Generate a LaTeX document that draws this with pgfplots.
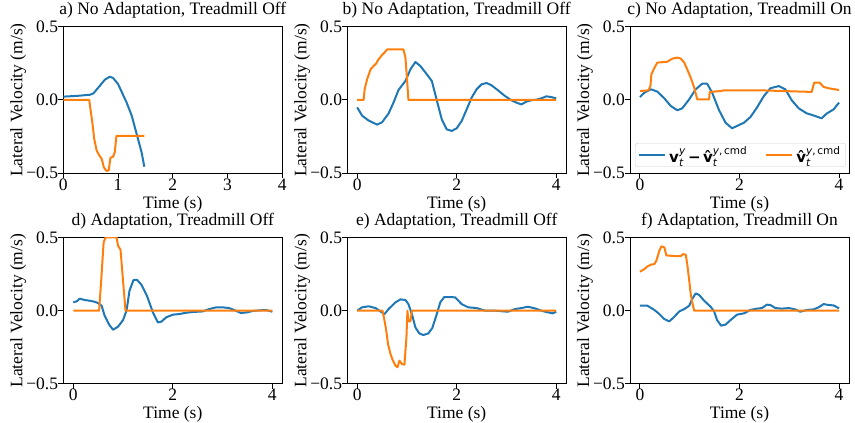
\documentclass[border=0pt]{standalone}
\usepackage{amsmath}
\usepackage{pgfplots}
\pgfplotsset{compat=1.18}
\usepackage{fontspec}
\setmainfont{Liberation Serif}
\newfontfamily\dejavu{DejaVu Sans}

\definecolor{mblue}{RGB}{31,119,180}
\definecolor{morange}{RGB}{255,127,14}

\newcommand{\fs}{\fontsize{17.5bp}{21bp}\selectfont}
\newcommand{\tl}[1]{\textrm{#1}}
\newcommand{\bv}{\text{\dejavu\bfseries v}}
\newcommand{\bvh}{\text{\dejavu\bfseries v̂}}
\newcommand{\st}{\text{\dejavu\itshape t}}
\newcommand{\sy}{\text{\dejavu\itshape y}}
\newcommand{\cmd}{\text{\dejavu ,\,cmd}}

\pgfplotsset{
  panel/.style={
    scale only axis, width=219bp, height=146.6bp,
    ymin=-0.5, ymax=0.5, ytick={-0.5,0,0.5},
    yticklabels={\tl{−0.5},\tl{0.0},\tl{0.5}},
    xmin=-0.2, xmax=4.2, xtick={0,2,4}, xticklabels={\tl{0},\tl{2},\tl{4}},
    tick align=outside, tick pos=left, major tick length=5bp,
    axis line style={line width=1bp},
    every tick/.style={black, line width=1bp},
    tick label style={font=\fs},
    xticklabel style={anchor=north, inner sep=0pt},
    yticklabel style={anchor=east, inner sep=0pt},
    xlabel={Time (s)}, ylabel={Lateral Velocity (m/s)},
    xlabel style={at={(axis description cs:0.5,-0.2387)}, anchor=base, inner sep=0pt, font=\fs},
    ylabel style={at={(axis description cs:-0.187,0.5)}, anchor=base, inner sep=0pt, font=\fs},
    title style={at={(axis description cs:0.5,1.041)}, anchor=base, inner sep=0pt, font=\fs},
  },
  bl/.style={mblue, line width=2bp, line join=round},
  or/.style={morange, line width=2bp, line join=round},
}

\begin{document}
\begin{tikzpicture}
\useasboundingbox (0,0) rectangle (855bp,423bp);

% a
\begin{axis}[panel, at={(63.3bp,249.7bp)}, anchor=south west,
  xmin=0, xmax=4, xtick={0,1,2,3,4},
  xticklabels={\tl{0},\tl{1},\tl{2},\tl{3},\tl{4}},
  title={a) No Adaptation, Treadmill Off}]
\addplot[bl] coordinates {(0,0.023)(0.25,0.028)(0.49,0.036)(0.55,0.045)(0.67,0.098)(0.76,0.139)(0.85,0.159)(0.91,0.15)(1.0,0.109)(1.155,-0.016)(1.25,-0.107)(1.34,-0.232)(1.43,-0.357)(1.48,-0.455)};
\addplot[or] coordinates {(0,0)(0.474,0)(0.5,-0.073)(0.53,-0.152)(0.565,-0.266)(0.61,-0.345)(0.66,-0.38)(0.7,-0.40)(0.74,-0.459)(0.79,-0.484)(0.83,-0.48)(0.86,-0.395)(0.91,-0.386)(0.94,-0.357)(0.97,-0.245)(1.48,-0.245)};
\end{axis}

% b
\begin{axis}[panel, at={(347.2bp,249.7bp)}, anchor=south west,
  title={b) No Adaptation, Treadmill Off}]
\addplot[bl] coordinates {(0,-0.05)(0.1,-0.107)(0.23,-0.14)(0.4,-0.168)(0.5,-0.152)(0.63,-0.093)(0.73,-0.018)(0.83,0.068)(0.97,0.13)(1.07,0.209)(1.17,0.259)(1.27,0.232)(1.4,0.175)(1.5,0.13)(1.6,-0.002)(1.7,-0.132)(1.8,-0.2)(1.9,-0.211)(2.0,-0.193)(2.1,-0.143)(2.2,-0.064)(2.3,0.016)(2.4,0.073)(2.5,0.107)(2.6,0.116)(2.7,0.1)(2.83,0.066)(2.97,0.027)(3.1,-0.002)(3.2,-0.018)(3.3,-0.03)(3.4,-0.011)(3.5,-0.002)(3.6,0.002)(3.7,0.011)(3.8,0.025)(3.9,0.02)(4.0,0.011)};
\addplot[or] coordinates {(0,0)(0.13,0)(0.15,0.073)(0.2,0.141)(0.27,0.209)(0.33,0.232)(0.38,0.248)(0.43,0.277)(0.5,0.307)(0.55,0.323)(0.6,0.345)(0.93,0.345)(0.97,0.289)(1.0,0.152)(1.03,0)(4.0,0)};
\end{axis}

% c
\begin{axis}[panel, at={(630bp,249.7bp)}, anchor=south west,
  title={c) No Adaptation, Treadmill On},
  legend columns=2,
  legend style={at={(axis description cs:0.504,0.045)}, anchor=south,
    draw=black!20, rounded corners=2bp, fill=white, font=\fontsize{15bp}{17bp}\selectfont,
    inner xsep=3bp, inner ysep=1bp,
    /tikz/every odd column/.append style={column sep=1bp},
    /tikz/every even column/.append style={column sep=16bp}},
  legend image code/.code={\draw[#1] (0bp,0bp) -- (26bp,0bp);}]
\addplot[bl] coordinates {(0,0.02)(0.09,0.05)(0.22,0.073)(0.35,0.057)(0.49,0.011)(0.62,-0.041)(0.75,-0.07)(0.85,-0.057)(0.99,0.005)(1.12,0.073)(1.25,0.111)(1.35,0.111)(1.45,0.05)(1.59,-0.07)(1.72,-0.155)(1.85,-0.193)(1.95,-0.177)(2.09,-0.155)(2.22,-0.116)(2.35,-0.052)(2.49,0.027)(2.62,0.08)(2.79,0.095)(2.92,0.073)(3.05,-0.002)(3.19,-0.057)(3.35,-0.091)(3.52,-0.109)(3.65,-0.125)(3.75,-0.093)(3.89,-0.064)(4.0,-0.018)};
\addlegendentry{$\bv_{\st}^{\sy}\,\text{\dejavu\bfseries −}\,\bvh_{\st}^{\sy\cmd}$}
\addplot[or] coordinates {(0,0.061)(0.17,0.066)(0.21,0.095)(0.23,0.175)(0.29,0.22)(0.35,0.255)(0.55,0.261)(0.65,0.282)(0.75,0.289)(0.82,0.282)(0.89,0.255)(0.95,0.209)(1.02,0.152)(1.09,0.084)(1.15,0.005)(1.39,0.005)(1.4,0.055)(1.62,0.061)(1.69,0.066)(2.42,0.066)(3.45,0.055)(3.5,0.118)(3.61,0.118)(3.69,0.089)(3.79,0.08)(4.0,0.068)};
\addlegendentry{$\bvh_{\st}^{\sy\cmd}$}
\end{axis}

% d
\begin{axis}[panel, at={(63.3bp,39bp)}, anchor=south west,
  title={d) Adaptation, Treadmill Off}]
\addplot[bl] coordinates {(0,0.057)(0.07,0.064)(0.13,0.082)(0.23,0.073)(0.33,0.068)(0.43,0.061)(0.5,0.052)(0.57,0.034)(0.63,-0.034)(0.72,-0.095)(0.8,-0.13)(0.9,-0.109)(1.0,-0.064)(1.07,0)(1.13,0.136)(1.21,0.209)(1.28,0.211)(1.37,0.177)(1.48,0.102)(1.6,-0.011)(1.7,-0.08)(1.77,-0.075)(1.87,-0.045)(2.0,-0.027)(2.13,-0.023)(2.27,-0.014)(2.4,-0.009)(2.6,-0.005)(2.73,0.011)(2.87,0.023)(3.0,0.023)(3.13,0.018)(3.23,0.005)(3.37,-0.016)(3.5,-0.011)(3.6,-0.002)(3.73,0.002)(3.87,0.005)(4.0,-0.007)};
\addplot[or] coordinates {(0,0)(0.52,0)(0.57,0.25)(0.61,0.466)(0.65,0.5)(0.87,0.5)(0.9,0.443)(0.95,0.416)(1.0,0.205)(1.05,0)(4.0,0)};
\end{axis}

% e
\begin{axis}[panel, at={(347.2bp,39bp)}, anchor=south west,
  title={e) Adaptation, Treadmill Off}]
\addplot[bl] coordinates {(0,0)(0.1,0.023)(0.23,0.03)(0.37,0.018)(0.47,-0.005)(0.55,-0.023)(0.63,0.011)(0.77,0.057)(0.87,0.077)(0.97,0.073)(1.03,0.045)(1.1,-0.023)(1.17,-0.114)(1.25,-0.155)(1.33,-0.166)(1.43,-0.155)(1.51,-0.118)(1.6,-0.023)(1.67,0.057)(1.75,0.093)(1.87,0.093)(1.97,0.091)(2.1,0.045)(2.23,0.023)(2.4,0.018)(2.57,0)(2.77,0)(3.03,-0.007)(3.17,0.011)(3.3,0.018)(3.43,0.027)(3.57,0.016)(3.7,0)(3.83,-0.011)(3.93,-0.018)(4.0,-0.007)};
\addplot[or] coordinates {(0,0)(0.51,0)(0.55,-0.068)(0.58,-0.125)(0.62,-0.227)(0.67,-0.295)(0.71,-0.334)(0.77,-0.375)(0.81,-0.386)(0.85,-0.341)(0.9,-0.364)(0.95,-0.368)(0.99,-0.182)(1.01,0)(1.03,-0.073)(1.07,-0.073)(1.1,0)(4.0,0)};
\end{axis}

% f
\begin{axis}[panel, at={(630bp,39bp)}, anchor=south west,
  title={f) Adaptation, Treadmill On}]
\addplot[bl] coordinates {(0,0.034)(0.15,0.034)(0.29,0.005)(0.39,-0.023)(0.49,-0.057)(0.59,-0.073)(0.69,-0.041)(0.79,-0.005)(0.89,0.011)(0.99,0.034)(1.05,0.08)(1.12,0.118)(1.19,0.107)(1.29,0.068)(1.42,0.027)(1.49,-0.005)(1.55,-0.064)(1.63,-0.102)(1.72,-0.095)(1.82,-0.064)(1.95,-0.027)(2.09,-0.018)(2.22,0.005)(2.35,0.014)(2.45,0.018)(2.55,0.041)(2.62,0.039)(2.72,0.018)(2.85,0.014)(2.99,0.018)(3.12,0.009)(3.22,-0.007)(3.35,0.005)(3.49,0.009)(3.59,0.023)(3.69,0.045)(3.79,0.039)(3.89,0.036)(4.0,0.016)};
\addplot[or] coordinates {(0,0.266)(0.09,0.284)(0.15,0.302)(0.22,0.314)(0.29,0.318)(0.33,0.341)(0.39,0.409)(0.43,0.439)(0.49,0.432)(0.53,0.377)(0.69,0.373)(0.82,0.373)(0.87,0.386)(0.92,0.382)(0.95,0.318)(0.99,0.205)(1.02,0.114)(1.05,0.057)(1.09,0)(4.0,0)};
\end{axis}
\end{tikzpicture}
\end{document}
